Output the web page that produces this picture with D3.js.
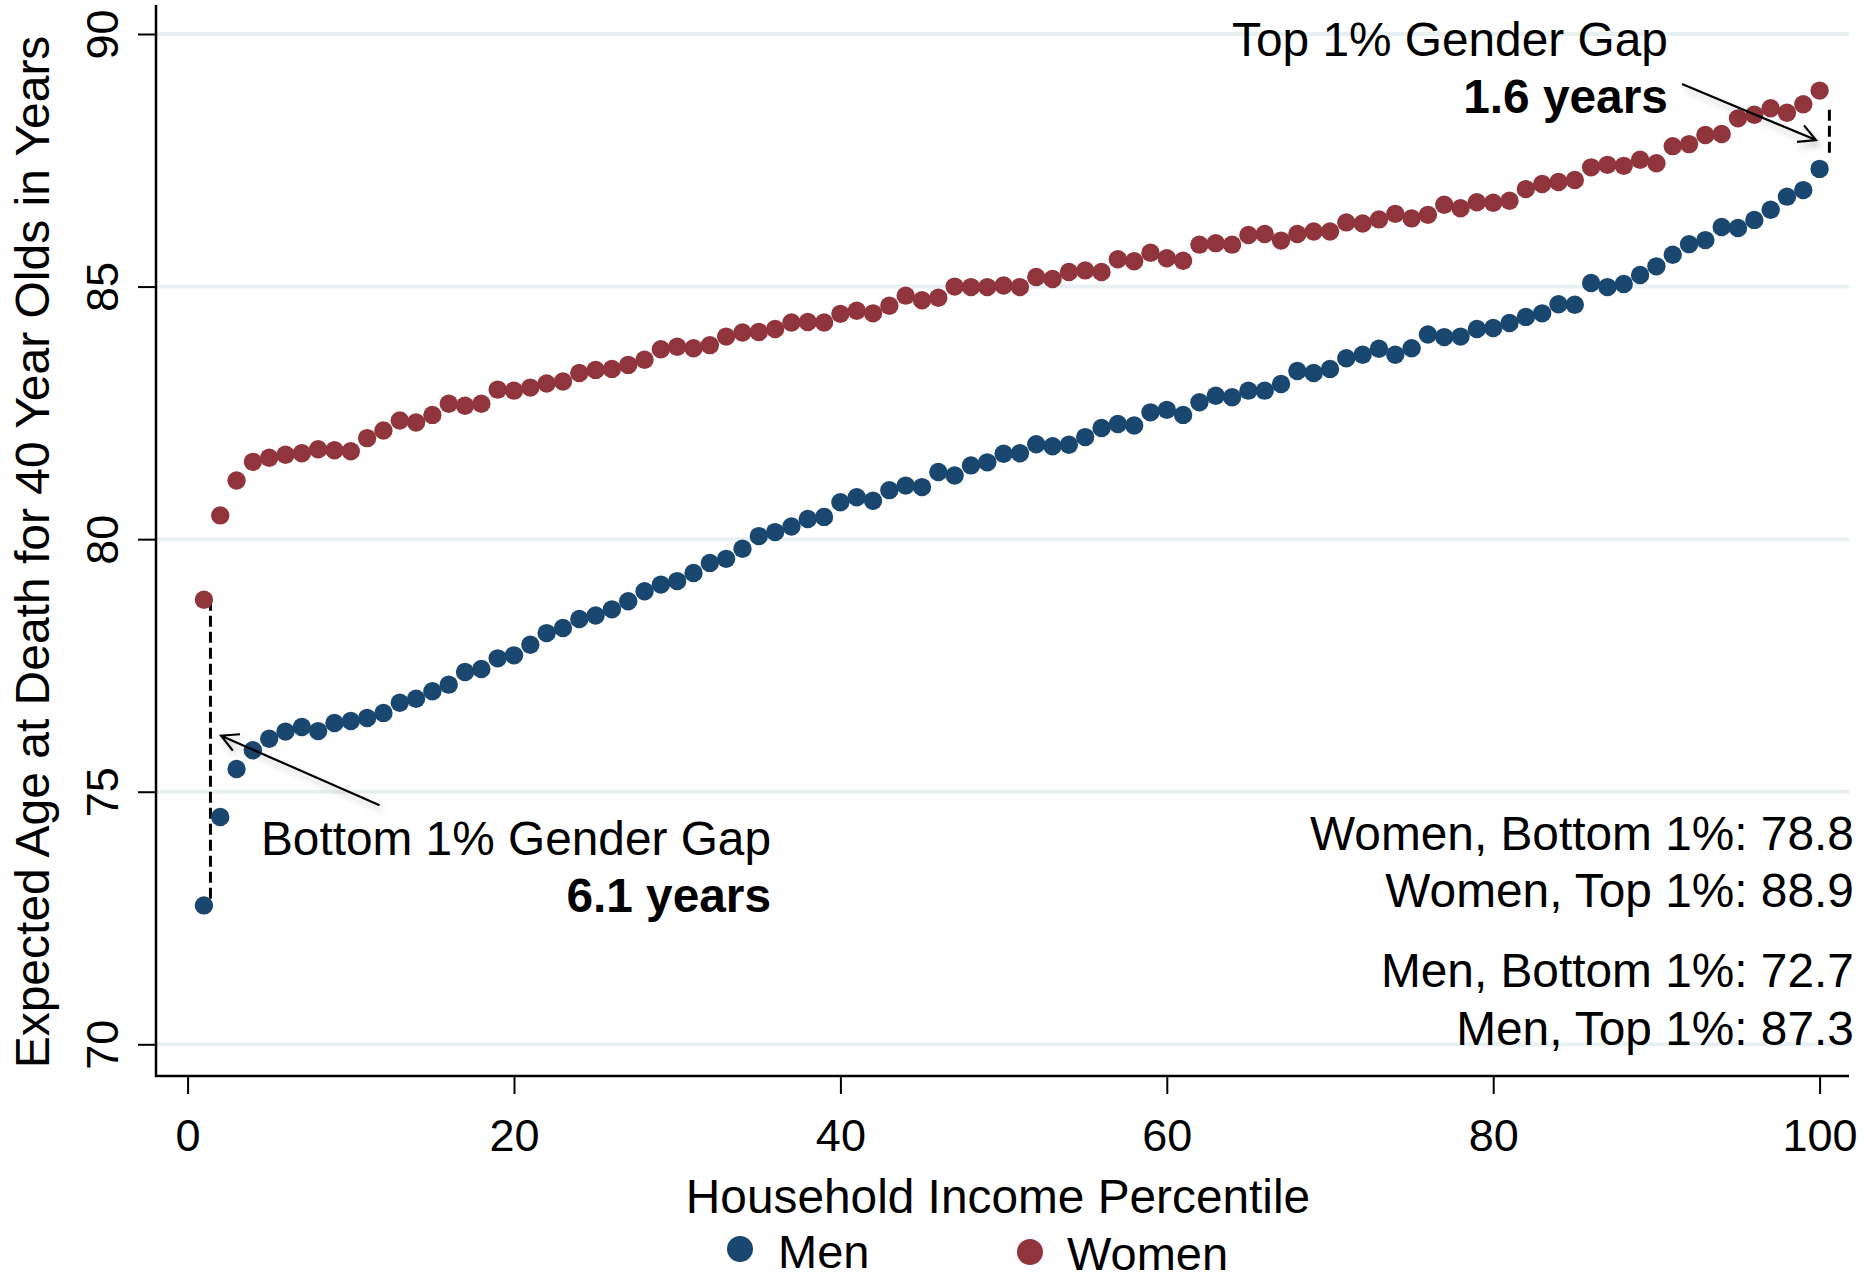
<!DOCTYPE html>
<html>
<head>
<meta charset="utf-8">
<script src="https://cdn.jsdelivr.net/npm/d3@7"></script>
<style>
  body { margin: 0; background: #fff; }
  svg { display: block; font-family: "Liberation Sans", Arial, Helvetica, sans-serif; }
</style>
</head>
<body>
<svg></svg>
<script>
// household income percentile 1..100
let percentiles = d3.range(1, 101);

// expected age at death for 40 year olds
let men = [
    72.75, 74.50, 75.45, 75.82, 76.05, 76.19, 76.28, 76.20, 76.36, 76.40,
    76.46, 76.56, 76.76, 76.84, 76.99, 77.12, 77.37, 77.43, 77.64, 77.70,
    77.91, 78.14, 78.24, 78.42, 78.49, 78.61, 78.77, 78.97, 79.10, 79.17,
    79.33, 79.53, 79.61, 79.81, 80.06, 80.14, 80.25, 80.40, 80.44, 80.73,
    80.83, 80.76, 80.97, 81.06, 81.03, 81.33, 81.26, 81.46, 81.52, 81.69,
    81.70, 81.88, 81.84, 81.87, 82.02, 82.20, 82.28, 82.25, 82.51, 82.56,
    82.46, 82.71, 82.84, 82.81, 82.94, 82.94, 83.07, 83.33, 83.29, 83.37,
    83.58, 83.65, 83.77, 83.65, 83.78, 84.05, 84.00, 84.01, 84.16, 84.18,
    84.28, 84.40, 84.47, 84.65, 84.64, 85.07, 84.99, 85.05, 85.23, 85.40,
    85.63, 85.84, 85.92, 86.18, 86.16, 86.32, 86.52, 86.78, 86.91, 87.33
];

let women = [
    78.80, 80.47, 81.16, 81.53, 81.61, 81.67, 81.70, 81.78, 81.76, 81.74,
    82.00, 82.15, 82.35, 82.31, 82.46, 82.68, 82.64, 82.68, 82.96, 82.94,
    83.00, 83.08, 83.12, 83.29, 83.35, 83.37, 83.45, 83.55, 83.76, 83.81,
    83.78, 83.84, 84.01, 84.09, 84.10, 84.16, 84.29, 84.30, 84.29, 84.46,
    84.52, 84.47, 84.62, 84.82, 84.73, 84.78, 85.00, 84.99, 84.99, 85.02,
    84.99, 85.19, 85.15, 85.29, 85.32, 85.29, 85.54, 85.50, 85.67, 85.56,
    85.51, 85.83, 85.86, 85.83, 86.02, 86.04, 85.91, 86.04, 86.09, 86.09,
    86.27, 86.25, 86.33, 86.44, 86.35, 86.42, 86.62, 86.55, 86.67, 86.66,
    86.70, 86.93, 87.03, 87.07, 87.11, 87.36, 87.41, 87.39, 87.51, 87.44,
    87.78, 87.82, 88.00, 88.02, 88.33, 88.40, 88.53, 88.44, 88.61, 88.88
];

let xTicks = [0, 20, 40, 60, 80, 100];
let yTicks = [70, 75, 80, 85, 90];

let seriesNames = ['Men', 'Women'];
let seriesColors = ['#1a476f', '#90353b'];

// summary text on the right
let summaryLines = [
    'Women, Bottom 1%: 78.8',
    'Women, Top 1%: 88.9',
    'Men, Bottom 1%: 72.7',
    'Men, Top 1%: 87.3'
];

let width = 1868;
let height = 1279;

let svg = d3.select('svg')
    .attr('width', width)
    .attr('height', height);

// plot region edges
let plotLeft = 156, plotRight = 1849, plotTop = 5, plotBottom = 1076;

let x = d3.scaleLinear().domain([0, 100]).range([187.6, 1819.6]);
let y = d3.scaleLinear().domain([70, 90]).range([1044.3, 34]);

// soft shadow used by the arrows
let defs = svg.append('defs');
let filter = defs.append('filter')
    .attr('id', 'shadow')
    .attr('x', '-30%').attr('y', '-60%')
    .attr('width', '160%').attr('height', '220%');
filter.append('feDropShadow')
    .attr('dx', 3).attr('dy', 5)
    .attr('stdDeviation', 3)
    .attr('flood-color', '#000')
    .attr('flood-opacity', 0.22);

// gridlines
svg.append('g')
    .selectAll('line.grid')
    .data(yTicks)
    .enter()
    .append('line')
    .classed('grid', true)
    .attr('x1', plotLeft)
    .attr('x2', plotRight)
    .attr('y1', d => y(d))
    .attr('y2', d => y(d))
    .attr('stroke', '#e9f0f2')
    .attr('stroke-width', 4);

// axes
let xAxis = svg.append('g')
    .attr('transform', `translate(0, ${plotBottom})`)
    .call(d3.axisBottom(x).tickValues(xTicks).tickSize(18).tickFormat(d3.format('d')));
xAxis.select('.domain').remove();
xAxis.selectAll('.tick line').attr('stroke', '#000').attr('stroke-width', 2);
xAxis.selectAll('.tick text')
    .attr('y', 75)
    .attr('dy', 0)
    .attr('fill', '#000')
    .style('font-size', '45px')
    .style('font-family', '"Liberation Sans", Arial, sans-serif');

let yAxis = svg.append('g')
    .attr('transform', `translate(${plotLeft}, 0)`)
    .call(d3.axisLeft(y).tickValues(yTicks).tickSize(18).tickFormat(d3.format('d')));
yAxis.select('.domain').remove();
yAxis.selectAll('.tick line').attr('stroke', '#000').attr('stroke-width', 2);
yAxis.selectAll('.tick text')
    .attr('x', null)
    .attr('dy', null)
    .attr('text-anchor', 'middle')
    .attr('transform', 'translate(-38, 0) rotate(-90)')
    .attr('fill', '#000')
    .style('font-size', '45px')
    .style('font-family', '"Liberation Sans", Arial, sans-serif');

svg.append('line')
    .attr('x1', plotLeft).attr('x2', plotLeft)
    .attr('y1', plotTop).attr('y2', plotBottom + 1)
    .attr('stroke', '#000').attr('stroke-width', 2.5);
svg.append('line')
    .attr('x1', plotLeft - 1).attr('x2', plotRight)
    .attr('y1', plotBottom).attr('y2', plotBottom)
    .attr('stroke', '#000').attr('stroke-width', 2.5);

// axis titles
svg.append('text')
    .attr('x', 998)
    .attr('y', 1213)
    .attr('text-anchor', 'middle')
    .style('font-size', '47.8px')
    .text('Household Income Percentile');

svg.append('text')
    .attr('transform', 'translate(49, 552) rotate(-90)')
    .attr('text-anchor', 'middle')
    .style('font-size', '48px')
    .text('Expected Age at Death for 40 Year Olds in Years');

// dashed gap markers (drawn under the dots)
let gaps = [
    { x: 1.4, from: women[0], to: men[0] },
    { x: 100.6, from: 88.5, to: 87.63 }
];
svg.append('g')
    .selectAll('line.gap')
    .data(gaps)
    .enter()
    .append('line')
    .classed('gap', true)
    .attr('x1', d => x(d.x))
    .attr('x2', d => x(d.x))
    .attr('y1', d => y(d.from))
    .attr('y2', d => y(d.to))
    .attr('stroke', '#000')
    .attr('stroke-width', 3)
    .attr('stroke-dasharray', '11,5');

// scatter points, one group per series
let series = [men, women];
let seriesGroup = svg.selectAll('g.series')
    .data(series)
    .enter()
    .append('g')
    .classed('series', true)
    .attr('fill', (d, i) => seriesColors[i]);

seriesGroup.selectAll('circle')
    .data(d => d)
    .enter()
    .append('circle')
    .attr('cx', (d, i) => x(percentiles[i]))
    .attr('cy', d => y(d))
    .attr('r', 9.2);

// arrows pointing at the gap markers
let arrows = [
    { x1: 91.57, y1: 89.01, x2: 99.78, y2: 87.90 },
    { x1: 11.76, y1: 74.73, x2: 2.05, y2: 76.11 }
];
let arrowGroup = svg.append('g')
    .attr('filter', 'url(#shadow)')
    .attr('stroke', '#000')
    .attr('stroke-width', 2.2)
    .attr('fill', 'none');

arrows.forEach(a => {
    let sx = x(a.x1), sy = y(a.y1), tx = x(a.x2), ty = y(a.y2);
    let back = Math.atan2(sy - ty, sx - tx);
    let spread = 28 * Math.PI / 180;
    let len = 19;
    let p1 = [tx + len * Math.cos(back - spread), ty + len * Math.sin(back - spread)];
    let p2 = [tx + len * Math.cos(back + spread), ty + len * Math.sin(back + spread)];
    arrowGroup.append('path')
        .attr('d', `M${sx},${sy}L${tx},${ty}M${p1[0]},${p1[1]}L${tx},${ty}L${p2[0]},${p2[1]}`);
});

// annotation text
let notes = [
    { text: 'Top 1% Gender Gap', x: 90.7, y: 89.56, bold: false },
    { text: '1.6 years', x: 90.7, y: 88.44, bold: true },
    { text: 'Bottom 1% Gender Gap', x: 35.75, y: 73.74, bold: false },
    { text: '6.1 years', x: 35.75, y: 72.61, bold: true }
];
svg.append('g')
    .selectAll('text')
    .data(notes)
    .enter()
    .append('text')
    .attr('x', d => x(d.x))
    .attr('y', d => y(d.y))
    .attr('text-anchor', 'end')
    .style('font-size', '47.8px')
    .style('font-weight', d => d.bold ? 'bold' : 'normal')
    .text(d => d.text);

let summaryY = [73.84, 72.71, 71.13, 69.98];
svg.append('g')
    .selectAll('text')
    .data(summaryLines)
    .enter()
    .append('text')
    .attr('x', x(102.1))
    .attr('y', (d, i) => y(summaryY[i]))
    .attr('text-anchor', 'end')
    .style('font-size', '47.8px')
    .text(d => d);

// legend (sits right at the bottom edge, as in the original)
let legendItems = [
    { cx: 740, cy: 1249, tx: 778, ty: 1268 },
    { cx: 1030, cy: 1252, tx: 1067, ty: 1270 }
];
let legend = svg.append('g')
    .selectAll('g.legend-item')
    .data(seriesNames)
    .enter()
    .append('g')
    .classed('legend-item', true);

legend.append('circle')
    .attr('cx', (d, i) => legendItems[i].cx)
    .attr('cy', (d, i) => legendItems[i].cy)
    .attr('r', 13)
    .attr('fill', (d, i) => seriesColors[i]);

legend.append('text')
    .attr('x', (d, i) => legendItems[i].tx)
    .attr('y', (d, i) => legendItems[i].ty)
    .style('font-size', '47px')
    .text(d => d);
</script>
</body>
</html>
